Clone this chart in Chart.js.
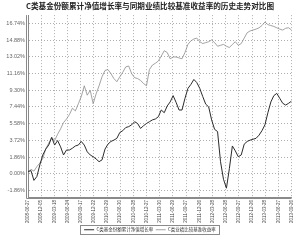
<!DOCTYPE html>
<html>
<head>
<meta charset="utf-8">
<script src="https://cdn.jsdelivr.net/npm/chart.js@4.4.1/dist/chart.umd.min.js"></script>
<style>
    html, body { margin: 0; padding: 0; background: #fff; }
    #cadre { width: 300px; height: 242px; }
</style>
</head>
<body>
<div id="cadre"><canvas id="graphique"></canvas></div>
<script>
const dateLabels = [
    '2008-06-27', '2008-12-05', '2009-03-18', '2009-06-24', '2009-09-17', '2009-12-22', '2010-03-29',
    '2010-06-30', '2010-09-28', '2010-12-27', '2011-03-30', '2011-06-29', '2011-09-27', '2011-12-26',
    '2012-03-28', '2012-06-28', '2012-09-27', '2012-12-26', '2013-03-28', '2013-06-27', '2013-09-26'
];

// C类基金份额累计净值增长率 (%)
const fundValues = [
    0.25, 0.36, -0.73, -0.3, 1.0, 2.1, 2.75, 3.2, 4.05, 3.2,
    3.7, 3.0, 2.1, 2.65, 2.65, 2.85, 3.1, 3.2, 3.6, 3.2,
    2.45, 2.1, 1.9, 1.65, 1.35, 1.55, 2.75, 3.3, 3.6, 3.75,
    3.95, 4.6, 4.8, 5.15, 5.25, 5.45, 5.8, 5.6, 5.05, 5.35,
    5.6, 5.8, 6.0, 6.1, 6.35, 7.1, 6.8, 7.55, 8.0, 8.7,
    7.95, 7.1, 7.1, 8.4, 9.5, 9.95, 10.5, 10.15, 9.5, 8.6,
    7.75, 7.45, 6.0, 4.95, 4.7, 1.35, -0.6, -1.6, 0.6, 3.1,
    2.55, 1.9, 2.1, 3.3, 3.6, 3.75, 3.85, 3.95, 4.3, 4.8,
    5.45, 6.8, 8.0, 8.7, 8.95, 8.4, 7.85, 7.65, 7.85, 8.1
];

// C类业绩比较基准收益率 (%)
const benchValues = [
    0.1, 0.5, 0.3, 0.8, 1.2, 1.7, 2.8, 3.4, 4.05, 3.7,
    4.4, 5.0, 5.7, 6.1, 6.6, 7.3, 7.0, 7.8, 8.6, 9.8,
    8.75, 9.3, 7.8, 8.9, 9.8, 10.8, 11.5, 11.6, 11.15, 10.6,
    10.25, 10.8, 11.3, 11.9, 12.0, 11.15, 10.7, 10.6, 10.4, 10.05,
    9.8, 11.6, 12.1, 12.3, 12.55, 13.1, 13.7, 13.5, 12.8, 13.0,
    13.0, 12.9, 12.8, 13.5, 14.4, 14.8, 15.0, 15.1, 14.7, 14.5,
    14.6, 14.7, 14.9, 14.6, 14.2, 14.3, 14.4, 14.2, 14.05, 14.4,
    14.7, 14.3, 14.5, 15.1, 15.7, 15.9, 16.0, 16.1, 16.25, 16.5,
    16.9, 16.6, 16.5, 16.4, 16.25, 16.1, 16.0, 16.2, 16.25, 16.0
];

const yTicks = [-1.86, 0, 1.86, 3.72, 5.58, 7.44, 9.30, 11.16, 13.02, 14.88, 16.74];
const yTickLabels = ['-1.86%', '0.00%', '1.86%', '3.72%', '5.58%', '7.44%', '9.30%', '11.16%', '13.02%', '14.88%', '16.74%'];
const yMin = -2.58;
const yMax = 17.66;

const titre = 'C类基金份额累计净值增长率与同期业绩比较基准收益率的历史走势对比图';
const nomsSeries = ['C类基金份额累计净值增长率', 'C类业绩比较基准收益率'];

const dernier = fundValues.length - 1;

// cadre de la légende + double trait des axes
const cadrePlugin = {
    id: 'cadrePlugin',
    afterDraw(chart) {
        const ctx = chart.ctx;
        const zone = chart.chartArea;
        const boites = chart.legend.legendHitBoxes;
        ctx.save();
        ctx.strokeStyle = '#8a8a8a';
        ctx.lineWidth = 1;
        ctx.beginPath();
        ctx.moveTo(zone.left - 1.5, zone.top);
        ctx.lineTo(zone.left - 1.5, zone.bottom + 1.5);
        ctx.lineTo(zone.right, zone.bottom + 1.5);
        ctx.stroke();
        if (boites.length) {
            const g = Math.min(...boites.map(b => b.left)) - 4;
            const d = Math.max(...boites.map(b => b.left + b.width)) + 3;
            const h = Math.min(...boites.map(b => b.top)) - 2.5;
            const bas = Math.max(...boites.map(b => b.top + b.height)) + 2;
            ctx.strokeRect(Math.round(g) + 0.5, Math.round(h) + 0.5, Math.round(d - g), Math.round(bas - h));
        }
        ctx.restore();
    }
};

new Chart(document.getElementById('graphique'), {
    type: 'line',
    data: {
        datasets: [{
            label: nomsSeries[0],
            data: fundValues.map((v, i) => ({ x: i, y: v })),
            borderColor: '#2b2b2b',
            borderWidth: 1,
            pointRadius: 0,
            tension: 0
        }, {
            label: nomsSeries[1],
            data: benchValues.map((v, i) => ({ x: i, y: v })),
            borderColor: '#8c8c8c',
            borderWidth: 0.8,
            pointRadius: 0,
            tension: 0
        }]
    },
    options: {
        responsive: true,
        maintainAspectRatio: false,
        animation: false,
        layout: {
            padding: { left: 0, right: 0, top: 0, bottom: 0 }
        },
        plugins: {
            title: {
                display: true,
                text: titre,
                color: '#222',
                font: { family: 'Noto Sans CJK SC', size: 7.6, weight: 'bold' },
                padding: { top: 1.5, bottom: 4.5 }
            },
            legend: {
                position: 'bottom',
                labels: {
                    usePointStyle: true,
                    pointStyle: 'line',
                    pointStyleWidth: 10,
                    color: '#333',
                    font: { family: 'Noto Sans CJK SC', size: 4.5 },
                    padding: 2.5
                }
            },
            tooltip: { enabled: false }
        },
        scales: {
            x: {
                type: 'linear',
                min: 0,
                max: dernier,
                afterBuildTicks: s => {
                    s.ticks = dateLabels.map((d, i) => ({ value: i * dernier / (dateLabels.length - 1) }));
                },
                afterFit: s => { s.height = 28; },
                ticks: {
                    autoSkip: false,
                    minRotation: 90,
                    maxRotation: 90,
                    padding: 3,
                    color: '#444',
                    font: { family: 'Liberation Sans', size: 4.5 },
                    callback: (v, i) => dateLabels[i]
                },
                grid: { color: '#9a9a9a', lineWidth: 0.8, drawTicks: false },
                border: { color: '#8a8a8a', width: 1, dash: [1, 2] }
            },
            y: {
                min: yMin,
                max: yMax,
                afterBuildTicks: s => {
                    s.ticks = yTicks.map(v => ({ value: v }));
                },
                afterFit: s => { s.width = 28; },
                ticks: {
                    padding: 3,
                    color: '#666',
                    font: { family: 'Liberation Sans', size: 5.5 },
                    callback: (v, i) => yTickLabels[i]
                },
                grid: { color: '#9a9a9a', lineWidth: 0.8, drawTicks: false },
                border: { color: '#8a8a8a', width: 1, dash: [1, 2] }
            }
        }
    },
    plugins: [cadrePlugin]
});
</script>
</body>
</html>
